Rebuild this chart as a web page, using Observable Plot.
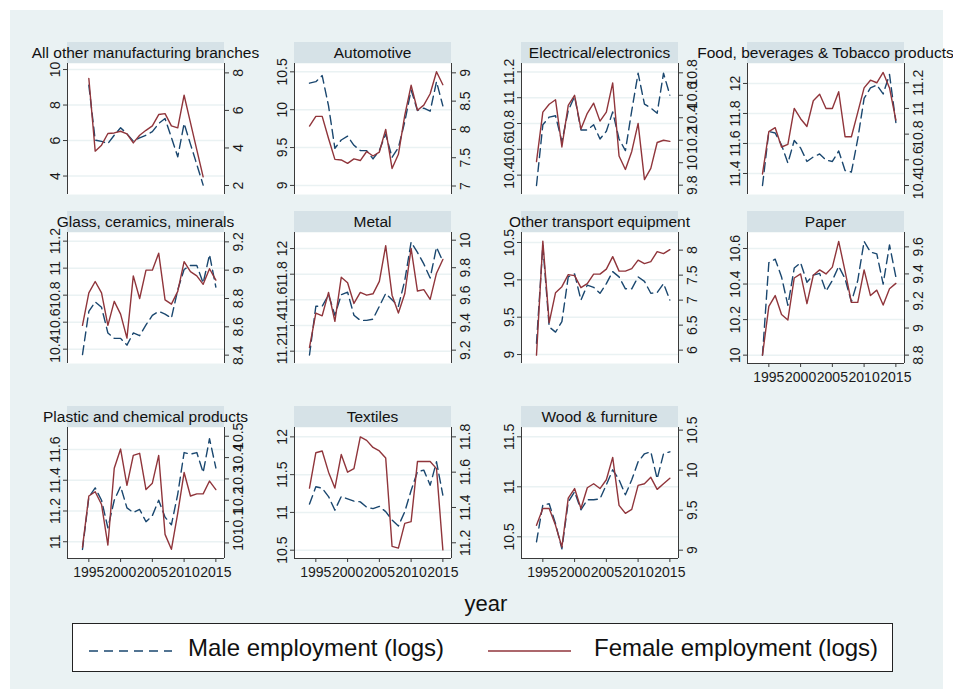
<!DOCTYPE html>
<html>
<head>
<meta charset="utf-8">
<script src="https://cdn.jsdelivr.net/npm/d3@7"></script>
<script src="https://cdn.jsdelivr.net/npm/@observablehq/plot@0.6"></script>
<style>
  body { margin: 0; background: #ffffff; font-family: "Liberation Sans", Arial, sans-serif; }
  #root { position: relative; width: 953px; height: 698px; overflow: hidden; background: #ffffff; }
  #bg { position: absolute; left: 10px; top: 10px; width: 933px; height: 679px; background: #eaf2f3; }
  .panel { position: absolute; }
  .panel svg { overflow: visible; }
  .strip { position: absolute; height: 21px; background: #d6e2e7; }
  .strip span { position: absolute; left: 50%; top: 0; transform: translateX(-50%); white-space: nowrap;
                font-size: 15.5px; line-height: 21px; color: #111; }
  #xlabel { position: absolute; left: 0; width: 972px; top: 591px; text-align: center; font-size: 22px; color: #111; }
  #legend { position: absolute; left: 72px; top: 623px; width: 821px; height: 49px; background: #fff;
            border: 1px solid #222; box-sizing: border-box; }
  #legend svg { position: absolute; left: 0; top: 0; }
  .legtext { position: absolute; top: 10px; font-size: 24px; color: #111; white-space: nowrap; }
</style>
</head>
<body>
<div id="root"><div id="bg"></div></div>
<script>
// ---------------- data ----------------
const years = [1994,1995,1996,1997,1998,1999,2000,2001,2002,2003,2004,2005,2006,2007,2008,2009,2010,2011,2012,2013,2014,2015];
const yearsAllOther = [1995,1996,1997,1998,1999,2000,2001,2002,2003,2004,2005,2006,2007,2008,2009,2010,2011,2012,2013];
const xTickYears = [1995, 2000, 2005, 2010, 2015];

const sectors = ["All other manufacturing branches", "Automotive", "Electrical/electronics", "Food, beverages & Tobacco products",
                 "Glass, ceramics, minerals", "Metal", "Other transport equipment", "Paper",
                 "Plastic and chemical products", "Textiles", "Wood & furniture"];

const maleAllOther   = [9.12,6.02,5.95,5.83,6.3,6.72,6.38,5.97,6.15,6.3,6.5,6.96,7.24,6.17,5.08,6.96,5.8,4.65,3.49];
const femaleAllOther = [7.70,3.83,4.15,4.77,4.80,4.89,4.75,4.27,4.68,4.94,5.18,5.78,5.83,5.18,5.07,6.81,5.35,3.90,2.46];

const maleAutomotive   = [10.35,10.37,10.45,10.05,9.49,9.6,9.65,9.53,9.46,9.46,9.35,9.46,9.68,9.37,9.5,9.84,10.26,9.99,10.02,9.98,10.37,10.05];
const femaleAutomotive = [8.06,8.23,8.23,7.84,7.47,7.46,7.40,7.48,7.45,7.61,7.53,7.60,8.0,7.31,7.56,8.25,8.78,8.34,8.43,8.63,9.02,8.79];

const maleElectrical   = [10.32,10.79,10.85,10.86,10.66,10.90,11.01,10.75,10.75,10.79,10.68,10.74,10.89,10.68,10.59,10.90,11.19,10.95,10.92,10.88,11.19,11.02];
const femaleElectrical = [10.01,10.45,10.52,10.56,10.14,10.51,10.60,10.30,10.44,10.53,10.37,10.45,10.71,10.06,9.94,10.10,10.35,9.85,9.95,10.18,10.20,10.19];

const maleFood   = [11.32,11.68,11.67,11.59,11.47,11.62,11.57,11.48,11.51,11.53,11.49,11.48,11.55,11.42,11.41,11.63,11.90,11.97,11.99,11.93,12.06,11.74];
const femaleFood = [10.49,10.82,10.85,10.70,10.72,11.0,10.92,10.86,11.06,11.11,11.0,11.0,11.13,10.78,10.78,10.97,11.16,11.22,11.20,11.28,11.16,10.91];

const maleGlass   = [10.36,10.68,10.75,10.71,10.52,10.48,10.48,10.43,10.52,10.50,10.58,10.65,10.68,10.66,10.63,10.84,10.99,11.02,11.02,10.89,11.10,10.86];
const femaleGlass = [8.61,8.84,8.92,8.84,8.61,8.78,8.69,8.52,8.96,8.80,9.0,9.0,9.12,8.79,8.76,8.85,9.06,8.99,8.96,8.90,9.01,8.93];

const maleMetal   = [11.17,11.55,11.55,11.64,11.48,11.64,11.66,11.48,11.44,11.44,11.45,11.55,11.65,11.60,11.55,11.75,12.05,11.97,11.88,11.77,12.01,11.90];
const femaleMetal = [9.22,9.47,9.45,9.62,9.41,9.73,9.69,9.54,9.62,9.60,9.61,9.70,9.96,9.60,9.47,9.61,9.94,9.63,9.64,9.57,9.76,9.86];

const maleTransport   = [9.15,10.46,9.37,9.30,9.44,10.04,10.08,9.73,9.93,9.9,9.82,9.95,10.11,10.04,9.88,9.88,10.04,9.98,9.82,9.83,9.95,9.73];
const femaleTransport = [5.9,8.18,6.55,7.15,7.27,7.51,7.49,7.25,7.33,7.52,7.52,7.62,7.87,7.58,7.58,7.63,7.80,7.73,7.77,7.97,7.93,8.01];

const malePaper   = [10.0,10.52,10.54,10.44,10.28,10.49,10.52,10.41,10.45,10.46,10.36,10.42,10.50,10.43,10.30,10.42,10.64,10.58,10.57,10.40,10.62,10.44];
const femalePaper = [8.80,9.16,9.24,9.10,9.06,9.37,9.40,9.18,9.39,9.43,9.40,9.45,9.64,9.42,9.19,9.19,9.43,9.24,9.28,9.17,9.29,9.33];

const malePlastic   = [10.95,11.29,11.35,11.27,11.09,11.27,11.36,11.22,11.19,11.21,11.13,11.17,11.27,11.16,11.11,11.31,11.58,11.57,11.58,11.45,11.67,11.48];
const femalePlastic = [9.98,10.22,10.24,10.18,9.99,10.35,10.44,10.27,10.41,10.42,10.25,10.28,10.41,10.04,9.97,10.14,10.33,10.22,10.23,10.23,10.29,10.25];

const maleTextiles   = [11.11,11.34,11.32,11.21,11.03,11.21,11.18,11.15,11.14,11.07,11.05,11.08,11.01,10.90,10.82,11.01,11.29,11.54,11.56,11.36,11.67,11.23];
const femaleTextiles = [11.51,11.71,11.72,11.60,11.51,11.70,11.60,11.62,11.80,11.78,11.74,11.72,11.68,11.18,11.17,11.31,11.32,11.66,11.66,11.66,11.62,11.16];

const maleWood   = [10.45,10.82,10.83,10.63,10.38,10.85,10.95,10.77,10.87,10.87,10.88,11.02,11.17,11.07,10.92,11.07,11.25,11.33,11.35,11.08,11.33,11.35];
const femaleWood = [9.31,9.52,9.52,9.31,9.04,9.65,9.77,9.52,9.78,9.83,9.77,9.88,10.16,9.56,9.46,9.51,9.81,9.83,9.91,9.76,9.83,9.90];

// tick labels (left axis = male, right axis = female)
const leftTicks  = [[4,6,8,10],[9,9.5,10,10.5],[10.4,10.6,10.8,11,11.2],[11.4,11.6,11.8,12],
                    [10.4,10.6,10.8,11,11.2],[11.2,11.4,11.6,11.8,12],[9,9.5,10,10.5],[10,10.2,10.4,10.6],
                    [11,11.2,11.4,11.6],[10.5,11,11.5,12],[10.5,11,11.5]];
const rightTicks = [[2,4,6,8],[7,7.5,8,8.5,9],[9.8,10,10.2,10.4,10.6,10.8],[10.4,10.6,10.8,11,11.2],
                    [8.4,8.6,8.8,9,9.2],[9.2,9.4,9.6,9.8,10],[6,6.5,7,7.5,8],[8.8,9,9.2,9.4,9.6],
                    [10,10.1,10.2,10.3,10.4,10.5],[11.2,11.4,11.6,11.8],[9,9.5,10,10.5]];
// axis ranges
const leftDomains  = [[2.96,10.34],[8.88,10.61],[10.25,11.265],[11.26,12.133],[10.294,11.264],[11.104,12.125],
                      [8.88,10.634],[9.953,10.69],[10.891,11.743],[10.39,12.124],[10.283,11.593]];
const rightDomains = [[1.52,8.50],[6.85,9.165],[9.717,10.883],[10.33,11.35],[8.341,9.266],[9.103,10.056],
                      [5.733,8.353],[8.738,9.706],[9.927,10.541],[11.111,11.853],[8.896,10.533]];
const xDomain = [1991.64, 2016.36];

const seriesYears  = [yearsAllOther, years, years, years, years, years, years, years, years, years, years];
const maleSeries   = [maleAllOther, maleAutomotive, maleElectrical, maleFood, maleGlass, maleMetal, maleTransport, malePaper, malePlastic, maleTextiles, maleWood];
const femaleSeries = [femaleAllOther, femaleAutomotive, femaleElectrical, femaleFood, femaleGlass, femaleMetal, femaleTransport, femalePaper, femalePlastic, femaleTextiles, femaleWood];
const withXAxis    = [false,false,false,false,false,false,false,true,true,true,true];

// ---------------- layout / style ----------------
const MALE = "#1a476f", FEMALE = "#90353b", GRID = "#eaf2f3", AXIS = "#3a3a3a", TEXT = "#1a1a1a";
const FRAME_W = 157, FRAME_H = 131;
const colLeft = [67, 294, 521, 747];
const rowTop = [63, 232, 427];
const ML = 40, MR = 40, MT = 8;

const root = document.getElementById("root");
const fmt = v => String(+v.toFixed(2));

sectors.forEach((title, k) => {
  const col = k % 4, row = Math.floor(k / 4);
  const [l0, l1] = leftDomains[k], [r0, r1] = rightDomains[k];
  const toLeft = v => l0 + (v - r0) * (l1 - l0) / (r1 - r0);
  const toRight = v => r0 + (v - l0) * (r1 - r0) / (l1 - l0);
  const yrs = seriesYears[k];
  const maleData = yrs.map((y, i) => ({year: y, v: maleSeries[k][i]}));
  const femData = yrs.map((y, i) => ({year: y, v: toLeft(femaleSeries[k][i])}));
  const xAxis = withXAxis[k];
  const MB = xAxis ? 30 : 8;

  const marks = [
    Plot.frame({fill: "white", stroke: null}),
    Plot.gridY(leftTicks[k], {stroke: GRID, strokeOpacity: 1, strokeWidth: 1.5}),
    Plot.axisY(leftTicks[k], {anchor: "left", tickSize: 4, tickPadding: 4, tickRotate: -90,
      textAnchor: "middle", lineAnchor: "bottom", stroke: AXIS, fill: TEXT, label: null, tickFormat: fmt}),
    Plot.axisY(rightTicks[k].map(toLeft), {anchor: "right", tickSize: 4, tickPadding: 5, tickRotate: -90,
      textAnchor: "middle", lineAnchor: "top", stroke: AXIS, fill: TEXT, label: null, tickFormat: d => fmt(toRight(d))}),
    Plot.ruleX([xDomain[0]], {stroke: AXIS, strokeWidth: 1}),
    Plot.ruleX([xDomain[1]], {stroke: AXIS, strokeWidth: 1}),
    Plot.line(maleData, {x: "year", y: "v", stroke: MALE, strokeWidth: 1.4, strokeDasharray: "9,5"}),
    Plot.line(femData, {x: "year", y: "v", stroke: FEMALE, strokeWidth: 1.4})
  ];
  if (xAxis) {
    marks.push(Plot.ruleY([l0], {stroke: AXIS, strokeWidth: 1}));
    marks.push(Plot.axisX(xTickYears, {anchor: "bottom", tickSize: 4, tickPadding: 5, stroke: AXIS, fill: TEXT,
      label: null, tickFormat: d => String(d)}));
  }

  const chart = Plot.plot({
    width: ML + FRAME_W + MR, height: MT + FRAME_H + MB,
    marginLeft: ML, marginRight: MR, marginTop: MT, marginBottom: MB,
    x: xAxis ? {domain: xDomain} : {domain: xDomain, axis: null},
    y: {domain: leftDomains[k], axis: null},
    style: {background: "transparent", fontSize: "14px", fontFamily: "'Liberation Sans', Arial, sans-serif", color: TEXT, overflow: "visible"},
    marks
  });

  const div = document.createElement("div");
  div.className = "panel";
  div.style.left = (colLeft[col] - ML) + "px";
  div.style.top = (rowTop[row] - MT) + "px";
  div.appendChild(chart);
  root.appendChild(div);

  const strip = document.createElement("div");
  strip.className = "strip";
  strip.style.left = colLeft[col] + "px";
  strip.style.top = (rowTop[row] - 21) + "px";
  strip.style.width = FRAME_W + "px";
  const sp = document.createElement("span");
  sp.textContent = title;
  strip.appendChild(sp);
  root.appendChild(strip);
});

// axis title and legend
const xl = document.createElement("div");
xl.id = "xlabel"; xl.textContent = "year";
root.appendChild(xl);

const leg = document.createElement("div");
leg.id = "legend";
leg.innerHTML =
  `<svg width="821" height="49">
     <line x1="16" x2="99" y1="27" y2="27" stroke="${MALE}" stroke-width="1.6" stroke-dasharray="9,6"/>
     <line x1="415" x2="498" y1="27" y2="27" stroke="${FEMALE}" stroke-width="1.6"/>
   </svg>
   <div class="legtext" style="left:115px">Male employment (logs)</div>
   <div class="legtext" style="left:521px">Female employment (logs)</div>`;
root.appendChild(leg);
</script>
</body>
</html>
